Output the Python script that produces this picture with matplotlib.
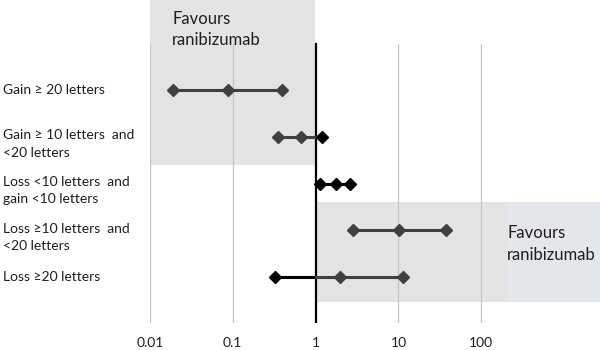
import numpy as np
import matplotlib.pyplot as plt
import matplotlib.transforms as mtransforms

plt.rcParams['font.family'] = ['Lato', 'DejaVu Sans']

outcomes = ['Gain \u2265 20 letters',
            'Gain \u2265 10 letters  and\n<20 letters',
            'Loss <10 letters  and\ngain <10 letters',
            'Loss \u226510 letters  and\n<20 letters',
            'Loss \u226520 letters']
lower = [0.019, 0.35, 1.12, 2.8, 0.32]
estimate = [0.087, 0.66, 1.74, 10.3, 1.95]
upper = [0.39, 1.2, 2.57, 38.0, 11.5]
ticks = [0.01, 0.1, 1, 10, 100]
tick_labels = ['0.01', '0.1', '1', '10', '100']

dark = '#404040'
txt = '#1e1e1e'
rows = np.arange(len(outcomes))

fig = plt.figure(figsize=(6, 3.5), dpi=100)
ax = fig.add_axes([150/600, 27/350, 450/600, 323/350])
ax.set_xscale('log')
ax.set_xlim(0.01, 10**3.434)
ax.set_ylim(4.98, -1.925)

# shaded regions
ax.axvspan(0.01, 0.99, ymin=(4.98-1.6)/6.905, ymax=1, color='#e4e4e4', lw=0, zorder=0)
ax.fill_between([1, 206], 2.4, 4.53, color='#e4e4e4', lw=0, zorder=0)
ax.fill_between([206, 10**3.434], 2.4, 4.53, color='#e3e6ea', lw=0, zorder=0)

# grid + reference line
for t in ticks:
    if t == 1:
        ax.axvline(t, ymin=0, ymax=0.864, color='black', lw=1.6, zorder=1)
    else:
        ax.axvline(t, ymin=0, ymax=0.864, color='#c4c4c4', lw=0.9, zorder=1)

for i in rows:
    lo, est, hi = lower[i], estimate[i], upper[i]
    if i == 2:
        ax.plot([lo, est, hi], [i]*3, '-D', color='black', lw=2.2, ms=6.5, zorder=3)
    elif i == 4:
        ax.plot([lo, 1], [i, i], '-', color='black', lw=2.2, zorder=3)
        ax.plot([1, est, hi], [i]*3, '-', color=dark, lw=2.2, zorder=3)
        ax.plot([est, hi], [i, i], 'D', color=dark, ms=6.5, zorder=4)
        ax.plot([lo], [i], 'D', color='black', ms=6.5, zorder=4)
    elif i == 1:
        ax.plot([lo, est, hi], [i]*3, '-', color=dark, lw=2.2, zorder=3)
        ax.plot([lo, est], [i, i], 'D', color=dark, ms=6.5, zorder=4)
        ax.plot([hi], [i], 'D', color='black', ms=6.5, zorder=4)
    else:
        ax.plot([lo, est, hi], [i]*3, '-D', color=dark, lw=2.2, ms=6.5, zorder=3)

ax.text(0.0185, -1.7, 'Favours\nranibizumab', fontsize=12, va='top', ha='left',
        color=txt, linespacing=1.4)
ax.text(205, 3.3, 'Favours\nranibizumab', fontsize=12, va='center', ha='left',
        color=txt, linespacing=1.45)

# row labels, left aligned at figure edge; first line sits at the row
trans = mtransforms.blended_transform_factory(fig.transFigure, ax.transData)
for i, lab in zip(rows, outcomes):
    off = mtransforms.ScaledTranslation(0, -7/100 if '\n' in lab else 0, fig.dpi_scale_trans)
    ax.text(3/600, i, lab, transform=trans + off, fontsize=10, color=txt,
            ha='left', va='center', linespacing=1.55)

ax.set_xticks(ticks)
ax.set_xticklabels(tick_labels, fontsize=10, color=txt)
ax.minorticks_off()
ax.tick_params(axis='x', length=0, pad=10)
ax.set_yticks([])
for s in ax.spines.values():
    s.set_visible(False)

fig.savefig('out.png', dpi=100)
